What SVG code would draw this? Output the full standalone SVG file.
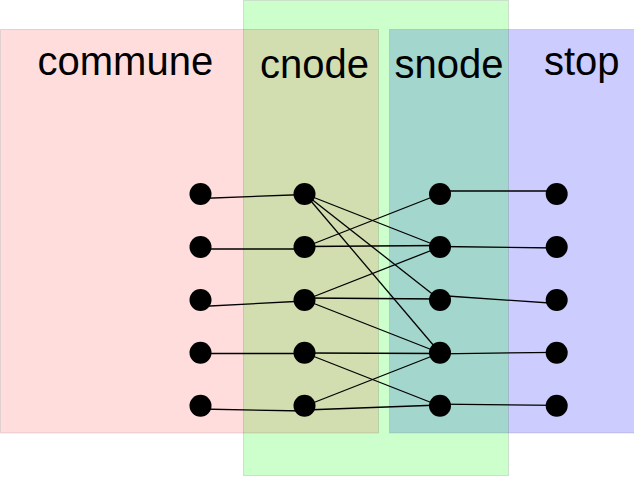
<svg xmlns="http://www.w3.org/2000/svg" width="634" height="477" viewBox="0 0 634 477">
<style>
.lbl{font-family:"Liberation Sans",Arial,sans-serif;font-size:40px;fill:#000}
.area{stroke:#000;stroke-opacity:0.12;stroke-width:1}
.e{stroke:#000;stroke-width:1.3;fill:none}
.n{fill:#000}
</style>
<rect width="634" height="477" fill="#fff"/>
<g id="areas">
<rect id="stop" class="area" x="389.5" y="29.5" width="245" height="403.5" fill="#ccccff"/>
<rect id="node" class="area" x="243.5" y="0.5" width="265" height="475" fill="rgb(0,255,0)" fill-opacity="0.2"/>
<rect id="commune" class="area" x="0.5" y="29.5" width="378" height="403.5" fill="rgb(255,0,0)" fill-opacity="0.133"/>
</g>
<g id="labels">
<text class="lbl" x="37.5" y="75">commune</text>
<text class="lbl" x="260" y="78">cnode</text>
<text class="lbl" x="394.5" y="78">snode</text>
<text class="lbl" x="544" y="75">stop</text>
</g>
<g id="connectors">
<line class="e" x1="200" y1="198.5" x2="305" y2="194.5"/>
<line class="e" x1="200" y1="249" x2="305" y2="249"/>
<line class="e" x1="200" y1="306.5" x2="305" y2="301"/>
<line class="e" x1="200" y1="353.5" x2="305" y2="353.5"/>
<line class="e" x1="200" y1="409" x2="305" y2="411"/>
<line class="e" x1="305" y1="194" x2="440" y2="247"/>
<line class="e" x1="305" y1="194" x2="440" y2="300"/>
<line class="e" x1="305" y1="194" x2="440" y2="353"/>
<line class="e" x1="305" y1="247" x2="440" y2="194"/>
<line class="e" x1="305" y1="246.5" x2="440" y2="245.5"/>
<line class="e" x1="305" y1="300" x2="440" y2="247"/>
<line class="e" x1="305" y1="298" x2="440" y2="299"/>
<line class="e" x1="305" y1="300" x2="440" y2="353"/>
<line class="e" x1="305" y1="353" x2="440" y2="353.5"/>
<line class="e" x1="305" y1="353" x2="440" y2="406"/>
<line class="e" x1="305" y1="406" x2="440" y2="353"/>
<line class="e" x1="305" y1="410" x2="440" y2="405"/>
<line class="e" x1="440" y1="191" x2="557" y2="191"/>
<line class="e" x1="440" y1="246.5" x2="557" y2="248"/>
<line class="e" x1="440" y1="295.5" x2="557" y2="303.5"/>
<line class="e" x1="440" y1="353.8" x2="557" y2="352.3"/>
<line class="e" x1="440" y1="404.2" x2="557" y2="405.3"/>
</g>
<g id="communes">
<circle id="c1" class="n" cx="200.5" cy="194" r="11"/>
<circle id="c2" class="n" cx="200.5" cy="247" r="11"/>
<circle id="c3" class="n" cx="200.5" cy="300" r="11"/>
<circle id="c4" class="n" cx="200.5" cy="352.7" r="11"/>
<circle id="c5" class="n" cx="200.5" cy="405.7" r="11"/>
</g>
<g id="cnodes">
<circle id="cn1" class="n" cx="304.5" cy="194" r="11"/>
<circle id="cn2" class="n" cx="304.5" cy="247" r="11"/>
<circle id="cn3" class="n" cx="304.5" cy="300" r="11"/>
<circle id="cn4" class="n" cx="304.5" cy="352.7" r="11"/>
<circle id="cn5" class="n" cx="304.5" cy="405.7" r="11"/>
</g>
<g id="snodes">
<circle id="sn1" class="n" cx="440" cy="194" r="11"/>
<circle id="sn2" class="n" cx="440" cy="247" r="11"/>
<circle id="sn3" class="n" cx="440" cy="300" r="11"/>
<circle id="sn4" class="n" cx="440" cy="352.7" r="11"/>
<circle id="sn5" class="n" cx="440" cy="405.7" r="11"/>
</g>
<g id="stops">
<circle id="st1" class="n" cx="556.7" cy="194" r="11"/>
<circle id="st2" class="n" cx="556.7" cy="247" r="11"/>
<circle id="st3" class="n" cx="556.7" cy="300" r="11"/>
<circle id="st4" class="n" cx="556.7" cy="352.7" r="11"/>
<circle id="st5" class="n" cx="556.7" cy="405.7" r="11"/>
</g>
</svg>
